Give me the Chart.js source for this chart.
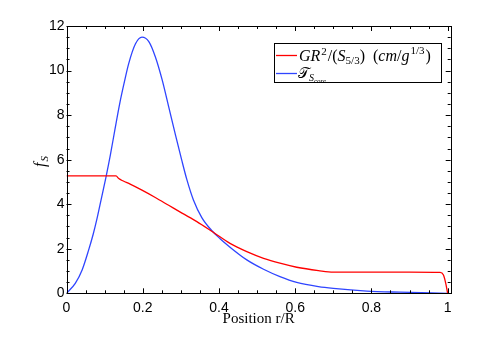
<!DOCTYPE html>
<html>
<head>
<meta charset="utf-8">
<script src="https://cdn.jsdelivr.net/npm/chart.js@4"></script>
<style>
  html, body { margin: 0; padding: 0; background: #fff; }
  #chart { display: block; }
</style>
</head>
<body>
<canvas id="chart" width="496" height="338"></canvas>
<script>
// values
const xBlue = [0, 0.023, 0.041, 0.058, 0.07, 0.08, 0.092, 0.104, 0.115, 0.127, 0.14, 0.152, 0.163, 0.181, 0.198, 0.216, 0.233, 0.251, 0.268, 0.286, 0.302, 0.316, 0.333, 0.355, 0.381, 0.403, 0.429, 0.473, 0.517, 0.56, 0.604, 0.661, 0.7, 0.788, 0.875, 1.0];
const yBlue = [0, 0.45, 1.05, 1.94, 2.65, 3.35, 4.3, 5.25, 6.2, 7.35, 8.55, 9.5, 10.3, 11.2, 11.5, 11.3, 10.62, 9.58, 8.38, 7.1, 6.0, 5.09, 4.19, 3.4, 2.82, 2.45, 2.07, 1.5, 1.08, 0.75, 0.49, 0.3, 0.22, 0.1, 0.05, 0.0];

const xRed = [0, 0.13, 0.137, 0.149, 0.167, 0.198, 0.233, 0.268, 0.303, 0.342, 0.385, 0.429, 0.473, 0.517, 0.56, 0.604, 0.661, 0.7, 0.8, 0.9, 0.98, 0.989, 0.995, 1.0];
const yRed = [5.27, 5.27, 5.15, 5.04, 4.9, 4.63, 4.3, 3.95, 3.6, 3.22, 2.74, 2.24, 1.87, 1.57, 1.35, 1.17, 1.02, 0.95, 0.95, 0.95, 0.94, 0.82, 0.45, 0.0];

const xTicks = [0, 0.2, 0.4, 0.6, 0.8, 1];
const yTicks = [0, 2, 4, 6, 8, 10, 12];
const xMinorStep = 0.05;
const yMinorStep = 0.5;

const serif = '"Liberation Serif", "DejaVu Serif", serif';
const sans = '"Liberation Sans", Arial, sans-serif';

// draw a row of text pieces (italic / roman, sub / sup) starting at x
function drawRuns(ctx, x, y, runs) {
    runs.forEach(r => {
        ctx.font = (r.it ? 'italic ' : '') + r.size + 'px ' + serif;
        ctx.fillText(r.t, x, y + (r.dy || 0));
        x += ctx.measureText(r.t).width + (r.gap || 0);
    });
    return x;
}

// box, inward ticks, axis titles and legend
const framePlugin = {
    id: 'frame',
    afterDraw(chart) {
        const ctx = chart.ctx;
        const a = chart.chartArea;
        const xs = chart.scales.x;
        const ys = chart.scales.y;
        ctx.save();
        ctx.strokeStyle = '#000';
        ctx.lineWidth = 1;

        const tick = (x1, y1, x2, y2) => {
            ctx.beginPath();
            ctx.moveTo(x1, y1);
            ctx.lineTo(x2, y2);
            ctx.stroke();
        };

        // minor + major ticks on x
        for (let v = 0; v <= 1.0001; v += xMinorStep) {
            const px = Math.round(xs.getPixelForValue(v)) + 0.5;
            const major = xTicks.some(t => Math.abs(t - v) < 1e-6);
            const len = major ? 5 : 3;
            tick(px, a.bottom, px, a.bottom - len);
            tick(px, a.top, px, a.top + len);
        }
        // minor + major ticks on y
        for (let v = 0; v <= 12.0001; v += yMinorStep) {
            const py = Math.round(ys.getPixelForValue(v)) + 0.5;
            const major = yTicks.some(t => Math.abs(t - v) < 1e-6);
            const len = major ? 5 : 3;
            tick(a.left, py, a.left + len, py);
            tick(a.right, py, a.right - len, py);
        }
        ctx.strokeRect(Math.round(a.left) + 0.5, Math.round(a.top) + 0.5,
            Math.round(a.right - a.left), Math.round(a.bottom - a.top));

        ctx.fillStyle = '#000';
        ctx.textBaseline = 'alphabetic';

        // x title
        ctx.font = '15px ' + serif;
        ctx.textAlign = 'center';
        ctx.fillText('Position r/R', (a.left + a.right) / 2, 323);

        // y title f_S
        ctx.save();
        ctx.translate(45, 167);
        ctx.rotate(-Math.PI / 2);
        ctx.textAlign = 'left';
        drawRuns(ctx, 0, 0, [
            { t: 'f', it: true, size: 16, gap: 1 },
            { t: 'S', it: true, size: 11, dy: 3 }
        ]);
        ctx.restore();

        // legend
        ctx.textAlign = 'left';
        ctx.fillStyle = '#fff';
        ctx.fillRect(274.5, 43.5, 167, 39);
        ctx.strokeRect(274.5, 43.5, 167, 39);

        ctx.lineWidth = 1.3;
        ctx.strokeStyle = chart.data.datasets[0].borderColor;
        tick(276, 55.5, 297, 55.5);
        ctx.strokeStyle = chart.data.datasets[1].borderColor;
        tick(276, 73.5, 297, 73.5);

        ctx.fillStyle = '#000';
        drawRuns(ctx, 299, 61, [
            { t: 'GR', it: true, size: 16, gap: 1 },
            { t: '2', size: 11, dy: -6, gap: 1 },
            { t: '/(', size: 16 },
            { t: 'S', it: true, size: 16 },
            { t: '5/3', size: 11, dy: 3 },
            { t: ')  (', size: 16 },
            { t: 'cm', it: true, size: 16 },
            { t: '/', size: 16 },
            { t: 'g', it: true, size: 16, gap: 1 },
            { t: '1/3', size: 11, dy: -7, gap: 1 },
            { t: ')', size: 16 }
        ]);
        drawRuns(ctx, 298, 78, [
            { t: '\u{1D4AF}', size: 15 },
            { t: 'S', it: true, size: 10, dy: 3 },
            { t: 'core', it: true, size: 7, dy: 5 }
        ]);
        ctx.restore();
    }
};

new Chart(document.getElementById('chart'), {
    type: 'line',
    data: {
        datasets: [
            {
                label: 'GR²/(S5/3) (cm/g1/3)',
                data: xRed.map((x, i) => ({ x: x, y: yRed[i] })),
                borderColor: '#ff0000',
                borderWidth: 1.3,
                pointRadius: 0,
                cubicInterpolationMode: 'monotone',
                fill: false
            },
            {
                label: 'T S core',
                data: xBlue.map((x, i) => ({ x: x, y: yBlue[i] })),
                borderColor: '#2f45ff',
                borderWidth: 1.3,
                pointRadius: 0,
                cubicInterpolationMode: 'monotone',
                fill: false
            }
        ]
    },
    options: {
        responsive: false,
        animation: false,
        layout: { padding: { top: 26, right: 45.3, left: 0, bottom: 0 } },
        plugins: {
            legend: { display: false },
            tooltip: { enabled: false }
        },
        scales: {
            x: {
                type: 'linear',
                min: 0,
                max: 1.008,
                grid: { display: false, drawTicks: false },
                border: { display: false },
                afterBuildTicks: (scale) => { scale.ticks = xTicks.map(v => ({ value: v })); },
                afterFit: (scale) => { scale.height = 44.7; },
                ticks: {
                    padding: 6,
                    maxRotation: 0,
                    color: '#000',
                    font: { family: sans, size: 14 },
                    callback: (v) => String(v)
                }
            },
            y: {
                min: 0,
                max: 12,
                grid: { display: false, drawTicks: false },
                border: { display: false },
                afterBuildTicks: (scale) => { scale.ticks = yTicks.map(v => ({ value: v })); },
                afterFit: (scale) => { scale.width = 66.5; },
                ticks: {
                    padding: 2,
                    color: '#000',
                    font: { family: sans, size: 14 },
                    callback: (v) => String(v)
                }
            }
        }
    },
    plugins: [framePlugin]
});
</script>
</body>
</html>
